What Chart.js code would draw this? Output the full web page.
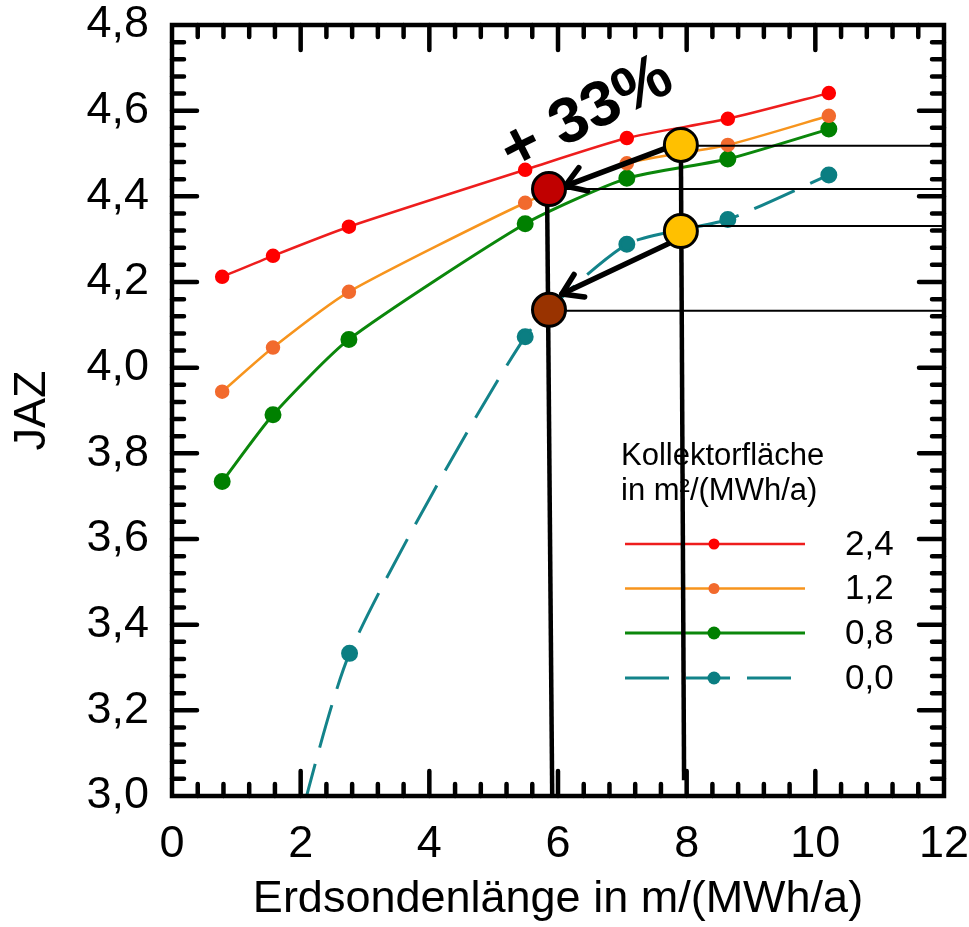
<!DOCTYPE html>
<html>
<head>
<meta charset="utf-8">
<script src="https://cdn.jsdelivr.net/npm/chart.js@4"></script>
<style>
html,body{margin:0;padding:0;background:#ffffff;}
canvas{display:block;}
</style>
</head>
<body>
<canvas id="c" width="969" height="927"></canvas>
<script>
// ---------- data ----------
const xValues   = [0.78, 1.57, 2.75, 5.49, 7.07, 8.64, 10.21];
const series24  = [4.212, 4.261, 4.329, 4.462, 4.536, 4.581, 4.641];
const series12  = [3.944, 4.047, 4.177, 4.385, 4.477, 4.520, 4.588];
const series08  = [3.734, 3.890, 4.066, 4.336, 4.442, 4.487, 4.557];
const xValues00 = [1.57, 2.76, 5.49, 7.07, 8.64, 10.21];
const series00  = [2.70, 3.333, 4.072, 4.288, 4.346, 4.450];
const seriesLabels = ['2,4', '1,2', '0,8', '0,0'];
const legendTitle  = ['Kollektorfläche', 'in m²/(MWh/a)'];
const xTickValues  = [0, 2, 4, 6, 8, 10, 12];
const yTickValues  = [3.0, 3.2, 3.4, 3.6, 3.8, 4.0, 4.2, 4.4, 4.6, 4.8];
const xTitle = 'Erdsondenlänge in m/(MWh/a)';
const yTitle = 'JAZ';
const annotationText = '+ 33%';
const annotationTextPos = {x: 6.45, y: 4.59};
// highlighted operating points
const markerX = [5.86, 5.86, 7.91, 7.91];
const markerY = [4.417, 4.135, 4.520, 4.319];
const markerColors = ['#c00000', '#993300', '#ffc000', '#ffc000'];
// vertical guide lines
const vLineTopX = [5.83, 7.91];
const vLineTopY = [4.417, 4.520];
const vLineBotX = [5.91, 7.96];
const vLineBotY = [3.0, 3.037];
// horizontal guide lines (from x to right axis)
const hLineStartX = [7.91, 5.86, 7.91, 5.86];
const hLineY = [4.518, 4.417, 4.331, 4.133];
// arrows
const arrowFromX = [7.69, 7.71];
const arrowFromY = [4.513, 4.289];
const arrowToX = [6.11, 6.06];
const arrowToY = [4.424, 4.172];

const FONT = "'Liberation Sans', Arial, Helvetica, sans-serif";

function pts(xs, ys) { return xs.map((x, i) => ({x: x, y: ys[i]})); }

const datasets = [
  {label: seriesLabels[0], data: pts(xValues, series24), borderColor: '#ee1d1d', backgroundColor: '#ff0000',
   pointBackgroundColor: '#ff0000', pointBorderColor: '#ff0000', borderWidth: 2.5, pointRadius: 6, tension: 0.2},
  {label: seriesLabels[1], data: pts(xValues, series12), borderColor: '#f7941d', backgroundColor: '#f26a2d',
   pointBackgroundColor: '#f26a2d', pointBorderColor: '#f26a2d', borderWidth: 2.5, pointRadius: 6, tension: 0.2},
  {label: seriesLabels[2], data: pts(xValues, series08), borderColor: '#0b870b', backgroundColor: '#008000',
   pointBackgroundColor: '#008000', pointBorderColor: '#008000', borderWidth: 3, pointRadius: 7, tension: 0.2},
  {label: seriesLabels[3], data: pts(xValues00, series00), borderColor: '#13838a', backgroundColor: '#0b7e82',
   pointBackgroundColor: '#0b7e82', pointBorderColor: '#0b7e82', borderWidth: 3, pointRadius: 7, tension: 0.2,
   borderDash: [44, 17]}
];

const legendPlugin = {
  id: 'customLegend',
  afterDatasetsDraw(chart) {
    const ctx = chart.ctx;
    ctx.save();
    ctx.fillStyle = '#000';
    ctx.font = '31px ' + FONT;
    ctx.textAlign = 'left';
    ctx.textBaseline = 'alphabetic';
    ctx.fillText(legendTitle[0], 621, 465);
    ctx.fillText(legendTitle[1], 621, 500);
    const rows = [544, 588.5, 633, 678];
    chart.data.datasets.forEach((ds, i) => {
      const y = rows[i];
      ctx.save();
      ctx.strokeStyle = ds.borderColor;
      ctx.lineWidth = ds.borderWidth;
      ctx.setLineDash(ds.borderDash || []);
      ctx.beginPath();
      ctx.moveTo(625, y);
      ctx.lineTo(805, y);
      ctx.stroke();
      ctx.restore();
      ctx.beginPath();
      ctx.fillStyle = ds.pointBackgroundColor;
      ctx.arc(714, y, ds.pointRadius - 0.5, 0, Math.PI * 2);
      ctx.fill();
      ctx.fillStyle = '#000';
      ctx.font = '35px ' + FONT;
      ctx.textBaseline = 'middle';
      ctx.fillText(ds.label, 845, y + 1);
    });
    ctx.restore();
  }
};

const annotationPlugin = {
  id: 'annotations',
  afterDatasetsDraw(chart) {
    const ctx = chart.ctx;
    const xs = chart.scales.x, ys = chart.scales.y;
    const X = v => xs.getPixelForValue(v), Y = v => ys.getPixelForValue(v);
    ctx.save();
    ctx.strokeStyle = '#000';
    ctx.lineCap = 'butt';
    ctx.lineWidth = 2;
    hLineY.forEach((y, i) => {
      ctx.beginPath();
      ctx.moveTo(X(hLineStartX[i]), Y(y));
      ctx.lineTo(chart.chartArea.right, Y(y));
      ctx.stroke();
    });
    ctx.lineWidth = 4.5;
    vLineTopX.forEach((x, i) => {
      ctx.beginPath();
      ctx.moveTo(X(x), Y(vLineTopY[i]));
      ctx.lineTo(X(vLineBotX[i]), Y(vLineBotY[i]));
      ctx.stroke();
    });
    ctx.lineWidth = 5.5;
    ctx.lineCap = 'round';
    ctx.lineJoin = 'round';
    arrowFromX.forEach((x, i) => {
      const x0 = X(x), y0 = Y(arrowFromY[i]), x1 = X(arrowToX[i]), y1 = Y(arrowToY[i]);
      const ang = Math.atan2(y1 - y0, x1 - x0);
      ctx.beginPath();
      ctx.moveTo(x0, y0);
      ctx.lineTo(x1, y1);
      ctx.stroke();
      const L = 23, a = Math.PI / 5.5;
      ctx.beginPath();
      ctx.moveTo(x1 - L * Math.cos(ang - a), y1 - L * Math.sin(ang - a));
      ctx.lineTo(x1, y1);
      ctx.lineTo(x1 - L * Math.cos(ang + a), y1 - L * Math.sin(ang + a));
      ctx.stroke();
    });
    markerX.forEach((x, i) => {
      ctx.beginPath();
      ctx.arc(X(x), Y(markerY[i]), 16.5, 0, Math.PI * 2);
      ctx.fillStyle = markerColors[i];
      ctx.fill();
      ctx.lineWidth = 3;
      ctx.stroke();
    });
    ctx.save();
    ctx.translate(X(annotationTextPos.x), Y(annotationTextPos.y));
    ctx.rotate(-27 * Math.PI / 180);
    ctx.font = 'bold 64px ' + FONT;
    ctx.fillStyle = '#000';
    ctx.textAlign = 'center';
    ctx.textBaseline = 'middle';
    ctx.fillText(annotationText, 0, 0);
    ctx.restore();
    ctx.restore();
  }
};

const framePlugin = {
  id: 'frameTicks',
  afterDatasetsDraw(chart) {
    const ctx = chart.ctx;
    const a = chart.chartArea;
    const xs = chart.scales.x, ys = chart.scales.y;
    ctx.save();
    ctx.strokeStyle = '#000';
    ctx.lineCap = 'round';
    ctx.lineWidth = 4.5;
    const MAJ = 25, MIN = 12;
    for (let i = 1; i < 30; i++) {
      const v = i * 0.4;
      const px = xs.getPixelForValue(v);
      const len = (i % 5 === 0) ? MAJ : MIN;
      ctx.beginPath();
      ctx.moveTo(px, a.bottom); ctx.lineTo(px, a.bottom - len);
      ctx.moveTo(px, a.top); ctx.lineTo(px, a.top + len);
      ctx.stroke();
    }
    for (let i = 1; i < 45; i++) {
      const v = 3 + i * 0.04;
      const py = ys.getPixelForValue(v);
      const len = (i % 5 === 0) ? MAJ : MIN;
      ctx.beginPath();
      ctx.moveTo(a.left, py); ctx.lineTo(a.left + len, py);
      ctx.moveTo(a.right, py); ctx.lineTo(a.right - len, py);
      ctx.stroke();
    }
    ctx.lineCap = 'square';
    ctx.lineWidth = 4.5;
    ctx.strokeRect(a.left, a.top, a.right - a.left, a.bottom - a.top);
    ctx.restore();
  }
};

new Chart(document.getElementById('c'), {
  type: 'line',
  data: {datasets: datasets},
  options: {
    responsive: false,
    animation: false,
    events: [],
    layout: {padding: {left: 0, right: 25, top: 25, bottom: 0}},
    plugins: {legend: {display: false}, tooltip: {enabled: false}},
    scales: {
      x: {
        type: 'linear', min: 0, max: 12,
        grid: {display: false, drawTicks: false},
        border: {display: false},
        afterBuildTicks: s => { s.ticks = xTickValues.map(v => ({value: v})); },
        afterFit: s => { s.height = 131; s.paddingLeft = 0; s.paddingRight = 0; },
        ticks: {color: '#000', font: {family: FONT, size: 45}, padding: 22, maxRotation: 0,
                autoSkip: false, callback: v => String(v)},
        title: {display: true, text: xTitle, color: '#000', font: {family: FONT, size: 45, lineHeight: 1.2},
                padding: {top: 0, bottom: 0}}
      },
      y: {
        type: 'linear', min: 3.0, max: 4.8,
        grid: {display: false, drawTicks: false},
        border: {display: false},
        afterBuildTicks: s => { s.ticks = yTickValues.map(v => ({value: v})); },
        afterFit: s => { s.width = 172; s.paddingTop = 0; s.paddingBottom = 0; },
        ticks: {color: '#000', font: {family: FONT, size: 45}, padding: 23, autoSkip: false,
                callback: v => Number(v).toFixed(1).replace('.', ',')},
        title: {display: true, text: yTitle, color: '#000', font: {family: FONT, size: 45, lineHeight: 1.2},
                padding: {top: 6, bottom: 0}}
      }
    }
  },
  plugins: [legendPlugin, annotationPlugin, framePlugin]
});
</script>
</body>
</html>
